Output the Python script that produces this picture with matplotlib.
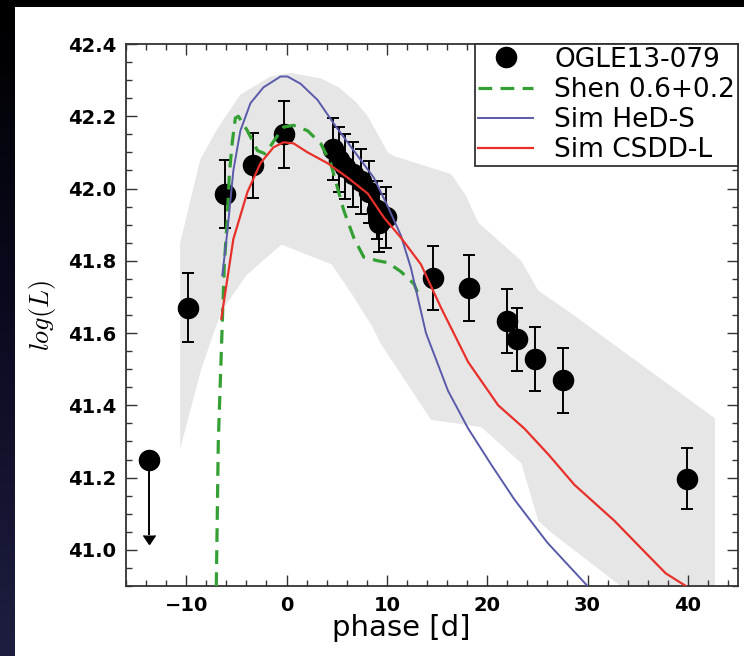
import numpy as np
import matplotlib
matplotlib.use("Agg")
import matplotlib.pyplot as plt
from matplotlib.patches import Rectangle
from matplotlib.lines import Line2D
from matplotlib.colors import LinearSegmentedColormap

# --- OGLE13-079 photometry: phase [d], log(L), 1-sigma error ---
phase = [-9.8, -6.1, -3.3, -0.3, 4.6, 5.2, 5.8, 6.6, 7.4, 8.2, 9.0, 9.2, 9.9,
         14.6, 18.2, 22.0, 23.0, 24.8, 27.6, 39.9]
logL = [41.67, 41.985, 42.065, 42.15, 42.11, 42.08, 42.06, 42.04, 42.02, 41.99,
        41.94, 41.905, 41.92,
        41.753, 41.725, 41.633, 41.583, 41.528, 41.469, 41.197]
logL_err = [0.095, 0.095, 0.09, 0.093, 0.085, 0.09, 0.09, 0.09, 0.09, 0.085,
            0.08, 0.08, 0.085,
            0.089, 0.092, 0.089, 0.087, 0.088, 0.09, 0.085]

# pre-explosion upper limit
limit_phase = [-13.7]
limit_logL = [41.25]
limit_len = [0.21]

# --- model light curves ---
shen_phase = [-7.0, -6.8, -6.4, -6.2, -5.9, -5.7, -5.4, -5.1, -4.8, -3.9, -2.9,
              -2.1, -1.3, -0.3, 0.7, 2.1, 3.4, 4.4, 5.1, 5.7, 6.7, 7.7, 9.1,
              10.1, 11.4, 12.7, 13.1]
shen_logL = [40.9, 41.3, 41.63, 41.79, 41.92, 42.04, 42.13, 42.195, 42.2, 42.16,
             42.105, 42.096, 42.13, 42.17, 42.175, 42.16, 42.125, 42.07, 42.0,
             41.94, 41.864, 41.81, 41.8, 41.795, 41.77, 41.736, 41.71]

hed_phase = [-6.4, -5.9, -5.3, -4.6, -3.6, -2.3, -0.6, 0.1, 1.4, 3.1, 4.7, 6.7,
             8.7, 10.1, 11.4, 12.4, 13.9, 16.1, 18.1, 20.4, 22.7, 24.4, 26.0,
             28.0, 30.0]
hed_logL = [41.76, 41.88, 42.05, 42.16, 42.236, 42.28, 42.31, 42.31, 42.29,
            42.245, 42.18, 42.105, 42.03, 41.95, 41.87, 41.78, 41.6, 41.44,
            41.336, 41.236, 41.14, 41.078, 41.02, 40.96, 40.9]

csdd_phase = [-6.5, -5.3, -3.9, -2.6, -1.3, -0.3, 0.7, 2.1, 4.1, 6.1, 8.1, 9.7,
              11.4, 13.4, 15.4, 18.1, 21.1, 23.7, 26.1, 28.7, 32.7, 35.5, 37.8,
              39.8]
csdd_logL = [41.64, 41.86, 41.99, 42.07, 42.114, 42.128, 42.125, 42.1, 42.07,
             42.03, 41.986, 41.92, 41.864, 41.79, 41.67, 41.52, 41.40, 41.336,
             41.264, 41.18, 41.08, 41.0, 40.935, 40.9]

# --- model spread envelope ---
band_upper_phase = [-10.6, -8.6, -6.8, -4.6, -1.6, 0.4, 3.4, 5.2, 6.9, 8.1, 10.1,
                    10.7, 16.4, 17.9, 19.1, 23.4, 25.1, 28.1, 42.7]
band_upper_logL = [41.85, 42.08, 42.17, 42.26, 42.31, 42.32, 42.305, 42.28, 42.24,
                   42.2, 42.1, 42.09, 42.04, 41.98, 41.906, 41.8, 41.717, 41.66,
                   41.364]
band_lower_phase = [-10.6, -8.5, -6.5, -4.0, -0.5, 4.5, 6.7, 8.5, 9.4, 14.4, 19.4,
                    23.4, 25.1, 26.3, 33.3, 34.5, 42.7]
band_lower_logL = [41.28, 41.5, 41.66, 41.76, 41.845, 41.79, 41.70, 41.62, 41.57,
                   41.36, 41.34, 41.24, 41.08, 41.05, 40.9, 40.85, 40.85]

xticks = [-10, 0, 10, 20, 30, 40]
yticks = [41.0, 41.2, 41.4, 41.6, 41.8, 42.0, 42.2, 42.4]

plt.rcParams["mathtext.fontset"] = "cm"
plt.rcParams["font.family"] = ["DejaVu Sans"]

W, H = 744, 656
fig = plt.figure(figsize=(W / 100, H / 100), dpi=100, facecolor="black")

# white slide panel with a dark border strip on the left and top
fig.patches.append(Rectangle((15 / W, 0), 1 - 15 / W, 1 - 7 / H,
                             transform=fig.transFigure, facecolor="white",
                             edgecolor="none", zorder=-10))
strip = fig.add_axes([0, 0, 15 / W, 1 - 7 / H])
strip_cmap = LinearSegmentedColormap.from_list("strip", ["#000000", "#0b0b22", "#1e1e40"])
strip.imshow(np.linspace(0, 1, 256)[:, None], aspect="auto", cmap=strip_cmap,
             origin="upper", extent=[0, 1, 0, 1])
strip.set_axis_off()

ax = fig.add_axes([126 / W, 1 - 586 / H, (738 - 126) / W, (586 - 44) / H])
ax.set_zorder(5)
ax.patch.set_alpha(0)

# envelope
poly_x = list(band_upper_phase) + list(band_lower_phase[::-1])
poly_y = list(band_upper_logL) + list(band_lower_logL[::-1])
ax.fill(poly_x, poly_y, color="#e6e6e6", lw=0, zorder=1)

# data
ax.errorbar(phase, logL, yerr=logL_err, fmt="o", color="black", ms=14.5,
            ecolor="black", elinewidth=1.4, capsize=4.3, capthick=1.4, zorder=2)
ax.errorbar(limit_phase, limit_logL, yerr=limit_len, uplims=True, fmt="o",
            color="black", ms=14.5, elinewidth=1.4, capsize=4.5, zorder=2)
obs_handle = Line2D([], [], marker="o", ls="none", color="black", ms=14.5)

# models
shen_line, = ax.plot(shen_phase, shen_logL, color="#34a034", lw=2.3,
                     dashes=(4.3, 2.6), zorder=3)
hed_line, = ax.plot(hed_phase, hed_logL, color="#5a5aaa", lw=1.4, zorder=3)
csdd_line, = ax.plot(csdd_phase, csdd_logL, color="#e8302a", lw=1.6, zorder=3)

ax.set_xlim(-16, 45)
ax.set_ylim(40.9, 42.4)
ax.set_xticks(xticks)
ax.set_yticks(yticks)
ax.set_xticks(np.arange(-16, 46, 2), minor=True)
ax.set_yticks(np.arange(40.9, 42.41, 0.05), minor=True)
ax.set_xticklabels(["\u221210", "0", "10", "20", "30", "40"])
ax.set_yticklabels([f"{v:.1f}" for v in yticks])
ax.tick_params(which="both", direction="in", top=True, right=True,
               color="#333333", width=1.0)
ax.tick_params(which="major", length=8, labelsize=14, pad=7)
ax.tick_params(which="minor", length=4)
for lab in ax.get_xticklabels() + ax.get_yticklabels():
    lab.set_fontweight("bold")
for sp in ax.spines.values():
    sp.set_color("#333333")
    sp.set_linewidth(1.3)

ax.set_xlabel("phase [d]", fontsize=21)
ax.xaxis.set_label_coords(0.449, -0.052, transform=ax.transAxes)
ax.xaxis.label.set_verticalalignment("top")
ax.set_ylabel(r"$log(L)$", fontsize=19, labelpad=7)

leg = ax.legend([obs_handle, shen_line, hed_line, csdd_line],
                ["OGLE13-079", "Shen 0.6+0.2", "Sim HeD-S", "Sim CSDD-L"],
                loc="upper right", borderaxespad=0, numpoints=1, fontsize=19,
                labelspacing=0.16, handlelength=2.1, handletextpad=0.8,
                borderpad=0.1, fancybox=False, framealpha=1)
leg.get_frame().set_edgecolor("#333333")
leg.get_frame().set_linewidth(1.3)

fig.savefig("out.png", dpi=100, facecolor=fig.get_facecolor())
